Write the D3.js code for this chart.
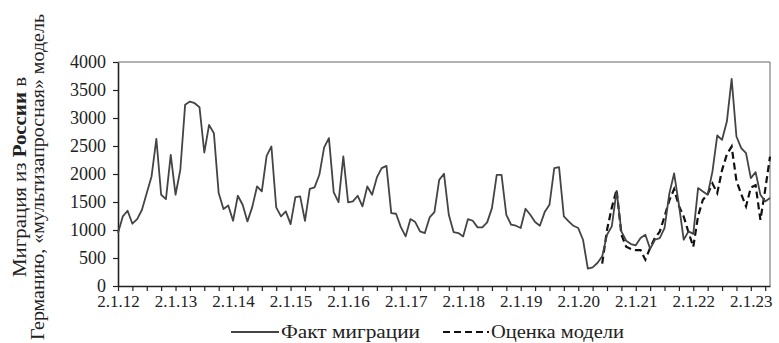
<!DOCTYPE html>
<html>
<head>
<meta charset="utf-8">
<script src="https://cdn.jsdelivr.net/npm/d3@7"></script>
<style>
  body { margin: 0; background: #fff; }
  svg, svg text { font-family: "Liberation Serif", "Times New Roman", serif; }
  svg { display: block; }
</style>
</head>
<body>
<svg id="chart" width="779" height="343"></svg>
<script>
// monthly migration, Jan 2012 .. May 2023 (index 0..136)
const factValues = [
  945, 1243, 1344, 1112, 1195, 1361, 1659, 1956, 2628, 1630, 1552, 2343,
  1630, 2075, 3235, 3293, 3264, 3193, 2384, 2877, 2729, 1659, 1374, 1439,
  1165, 1611, 1451, 1154, 1409, 1778, 1689, 2325, 2492, 1404, 1243, 1332,
  1106, 1588, 1600, 1165, 1736, 1760, 1986, 2474, 2640, 1671, 1498, 2314,
  1493, 1511, 1611, 1422, 1778, 1630, 1939, 2105, 2146, 1302, 1290, 1052,
  886, 1195, 1142, 975, 945, 1225, 1320, 1896, 2004, 1272, 963, 945,
  886, 1195, 1165, 1047, 1047, 1136, 1391, 1986, 1986, 1272, 1094, 1076,
  1035, 1379, 1272, 1142, 1076, 1320, 1451, 2105, 2123, 1243, 1154, 1075,
  1035, 826, 309, 333, 410, 530, 915, 1065, 1700, 975, 808, 749,
  726, 856, 915, 666, 826, 856, 1035, 1650, 2010, 1451, 826, 975,
  930, 1748, 1689, 1630, 2046, 2688, 2610, 2937, 3698, 2670, 2462, 2373,
  1927, 2034, 1630, 1511, 1570
];
// model estimate starts at month index 101
const modelStart = 101;
const modelValues = [
  400, 1000, 1400, 1720, 920, 700, 660, 640, 640, 470, 680,
  860, 970, 1240, 1530, 1730, 1430, 1240, 960, 700, 1250, 1540,
  1640, 1830, 1660, 2070, 2350, 2490, 1880, 1640, 1420, 1760, 1800,
  1180, 1720, 2310
];
const xLabels = ["2.1.12", "2.1.13", "2.1.14", "2.1.15", "2.1.16", "2.1.17",
  "2.1.18", "2.1.19", "2.1.20", "2.1.21", "2.1.22", "2.1.23"];
const yTicks = [0, 500, 1000, 1500, 2000, 2500, 3000, 3500, 4000];
const legendNames = ["Факт миграции", "Оценка модели"];

const serif = '"Liberation Serif", "Times New Roman", serif';
const svg = d3.select("#chart");
const m = { left: 118, right: 770, top: 62, bottom: 286 };

const x = d3.scaleLinear().domain([0, factValues.length - 1]).range([m.left, m.right]);
const y = d3.scaleLinear().domain([0, 4000]).range([m.bottom, m.top]);

// plot frame (top and right)
svg.append("path")
  .attr("d", `M${m.left},${m.top}H${m.right}V${m.bottom}`)
  .attr("fill", "none").attr("stroke", "#666").attr("stroke-width", 1);

// y axis
const yAxis = svg.append("g")
  .attr("transform", `translate(${m.left},0)`)
  .call(d3.axisLeft(y).tickValues(yTicks).tickFormat(d3.format("d"))
    .tickSize(5).tickPadding(7).tickSizeOuter(0));
yAxis.attr("font-family", serif);
yAxis.select(".domain").attr("stroke", "#222").attr("stroke-width", 1.6);
yAxis.selectAll(".tick line").attr("stroke", "#222").attr("stroke-width", 1.2);
yAxis.selectAll("text").attr("font-size", 18).attr("fill", "#222");

// x axis: quarterly ticks, yearly labels
const xTickVals = d3.range(0, factValues.length, 3);
const xAxis = svg.append("g")
  .attr("transform", `translate(0,${m.bottom})`)
  .call(d3.axisBottom(x).tickValues(xTickVals).tickSize(5).tickPadding(4).tickSizeOuter(0)
    .tickFormat(d => d % 12 === 0 ? xLabels[d / 12] : ""));
xAxis.attr("font-family", serif);
xAxis.select(".domain").attr("stroke", "#222").attr("stroke-width", 1.4);
xAxis.selectAll(".tick line").attr("stroke", "#222").attr("stroke-width", 1.2);
xAxis.selectAll("text").attr("font-size", 17).attr("fill", "#222");

// series
const line = d3.line().x(d => x(d.i)).y(d => y(d.v));
const factData = factValues.map((v, i) => ({ i, v }));
const modelData = modelValues.map((v, k) => ({ i: modelStart + k, v }));

svg.append("path").datum(modelData)
  .attr("d", line).attr("fill", "none")
  .attr("stroke", "#111").attr("stroke-width", 2.2)
  .attr("stroke-dasharray", "7,4");

svg.append("path").datum(factData)
  .attr("d", line).attr("fill", "none")
  .attr("stroke", "#444").attr("stroke-width", 1.8)
  .attr("stroke-linejoin", "round");

// y axis title (two lines, rotated)
const title = svg.append("g").attr("fill", "#222").attr("font-size", 18)
  .attr("font-family", serif);
const t1 = title.append("text")
  .attr("transform", "translate(26,177) rotate(-90)")
  .attr("text-anchor", "middle")
  .attr("textLength", 200).attr("lengthAdjust", "spacingAndGlyphs");
t1.append("tspan").text("Миграция из ");
t1.append("tspan").attr("font-weight", "bold").text("России");
t1.append("tspan").text(" в");
title.append("text")
  .attr("transform", "translate(44,177) rotate(-90)")
  .attr("text-anchor", "middle")
  .attr("textLength", 326).attr("lengthAdjust", "spacingAndGlyphs")
  .text("Германию, «мультизапросная» модель");

// legend
const lg = svg.append("g").attr("font-size", 19).attr("fill", "#222")
  .attr("font-family", serif);
lg.append("line").attr("x1", 231).attr("x2", 279).attr("y1", 332).attr("y2", 332)
  .attr("stroke", "#444").attr("stroke-width", 1.8);
lg.append("text").attr("x", 281).attr("y", 338)
  .attr("textLength", 139).attr("lengthAdjust", "spacingAndGlyphs")
  .text(legendNames[0]);
lg.append("line").attr("x1", 443).attr("x2", 489).attr("y1", 332).attr("y2", 332)
  .attr("stroke", "#111").attr("stroke-width", 2.2).attr("stroke-dasharray", "7,4");
lg.append("text").attr("x", 491).attr("y", 338)
  .attr("textLength", 133).attr("lengthAdjust", "spacingAndGlyphs")
  .text(legendNames[1]);
</script>
</body>
</html>
